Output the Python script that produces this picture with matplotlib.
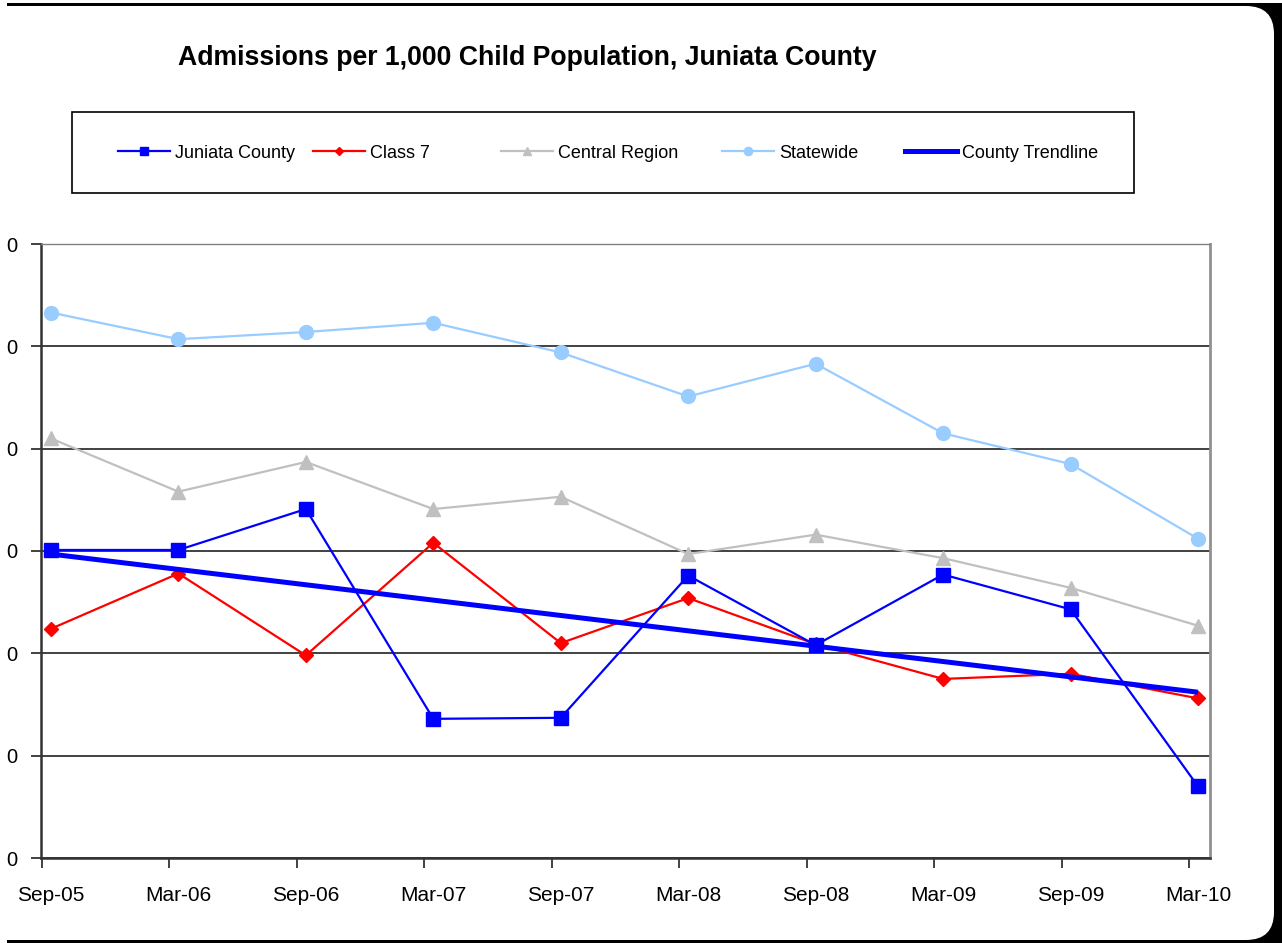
import matplotlib
matplotlib.use("Agg")
import matplotlib.pyplot as plt
from matplotlib.lines import Line2D
from matplotlib.patches import Rectangle, FancyBboxPatch
from matplotlib.ticker import FixedLocator

plt.rcParams['font.family'] = ['Liberation Sans', 'DejaVu Sans']

# Half-year periods
periods = ["Sep-05", "Mar-06", "Sep-06", "Mar-07", "Sep-07",
           "Mar-08", "Sep-08", "Mar-09", "Sep-09", "Mar-10"]

# Admissions per 1,000 child population
juniata = [3.01, 3.01, 3.41, 1.36, 1.37, 2.76, 2.08, 2.77, 2.43, 0.70]
class7 = [2.24, 2.78, 1.98, 3.08, 2.10, 2.54, 2.09, 1.75, 1.80, 1.56]
central = [4.10, 3.58, 3.87, 3.41, 3.53, 2.97, 3.16, 2.93, 2.64, 2.27]
statewide = [5.33, 5.07, 5.14, 5.23, 4.94, 4.51, 4.83, 4.15, 3.85, 3.12]

# Linear trend of the county series (first and last period)
trend_ends = [2.97, 1.62]

y_ticks = [0, 1, 2, 3, 4, 5, 6]
y_labels = ["0", "0", "0", "0", "0", "0", "0"]

W, H = 1282, 943
fig = plt.figure(figsize=(W / 100, H / 100), dpi=100, facecolor="white")

# Rounded chart frame
fig.add_artist(Rectangle((7 / 100, 0), (W - 7) / 100, (H - 3) / 100,
                         transform=fig.dpi_scale_trans, facecolor="black",
                         edgecolor="none", zorder=-10))
fig.add_artist(FancyBboxPatch((-0.5, 3 / 100), (1274 + 50) / 100, (H - 9) / 100,
                              boxstyle="round,pad=0,rounding_size=0.28",
                              transform=fig.dpi_scale_trans, facecolor="white",
                              edgecolor="none", zorder=-9))

ax_l, ax_r, ax_t, ax_b = 41, 1210, 244, 858
ax = fig.add_axes([ax_l / W, 1 - ax_b / H, (ax_r - ax_l) / W, (ax_b - ax_t) / H])
ax.set_facecolor("none")

x = list(range(len(periods)))
ax.plot(x, juniata, color="#0000FF", lw=1.6, marker="s", ms=10, zorder=5)
ax.plot(x, class7, color="#FF0000", lw=1.6, marker="D", ms=7.5, zorder=4)
ax.plot(x, central, color="#C0C0C0", lw=1.6, marker="^", ms=10, zorder=3)
ax.plot(x, statewide, color="#99CCFF", lw=1.6, marker="o", ms=10, zorder=3)
ax.plot([x[0], x[-1]], trend_ends, color="#0000FF", lw=3.6, zorder=6,
        solid_capstyle="butt")

ax.set_xlim(-0.078, 9.094)
ax.set_ylim(0, 6)

ax.set_yticks(y_ticks)
ax.set_yticklabels(y_labels)
ax.yaxis.grid(True, color="#333333", lw=1.3)
ax.set_axisbelow(True)
ax.tick_params(axis="y", length=7, width=1.3, color="#333333", pad=10,
               labelsize=14.5)

ax.set_xticks(x)
ax.set_xticklabels(periods)
ax.tick_params(axis="x", which="major", length=0, pad=20, labelsize=15)
ax.xaxis.set_minor_locator(FixedLocator([i - 0.07 for i in x]))
ax.tick_params(axis="x", which="minor", length=7, width=1.3, color="#333333")

for side in ("left", "bottom"):
    ax.spines[side].set_color("#333333")
    ax.spines[side].set_linewidth(1.8)
ax.spines["right"].set_color("#909090")
ax.spines["right"].set_linewidth(2.0)
ax.spines["top"].set_color("#808080")
ax.spines["top"].set_linewidth(1.0)

fig.text(527 / W, 1 - 58 / H, "Admissions per 1,000 Child Population, Juniata County",
         ha="center", va="center", fontsize=19.2, fontweight="bold")

# Legend: framed box holding one entry per series
fig.add_artist(Rectangle((72 / W, 1 - 193 / H), (1134 - 72) / W, 81 / H,
                         transform=fig.transFigure, facecolor="white",
                         edgecolor="black", lw=1.2, zorder=1))
handles = [
    Line2D([], [], color="#0000FF", lw=1.6, marker="s", ms=6),
    Line2D([], [], color="#FF0000", lw=1.6, marker="D", ms=4.5),
    Line2D([], [], color="#C0C0C0", lw=1.6, marker="^", ms=6),
    Line2D([], [], color="#99CCFF", lw=1.6, marker="o", ms=6),
    Line2D([], [], color="#0000FF", lw=3.6),
]
labels = ["Juniata County", "Class 7", "Central Region", "Statewide",
          "County Trendline"]
entry_x = [118, 313, 501, 722, 905]
for h, lab, ex in zip(handles, labels, entry_x):
    lg = fig.legend([h], [lab], loc="center left",
                    bbox_to_anchor=(ex / W, 1 - 153 / H),
                    frameon=False, fontsize=13, borderpad=0, borderaxespad=0,
                    handlelength=52 / 18.0, handletextpad=5 / 18.0)
    lg.set_zorder(2)

fig.savefig("out.png", dpi=100, facecolor="white")
